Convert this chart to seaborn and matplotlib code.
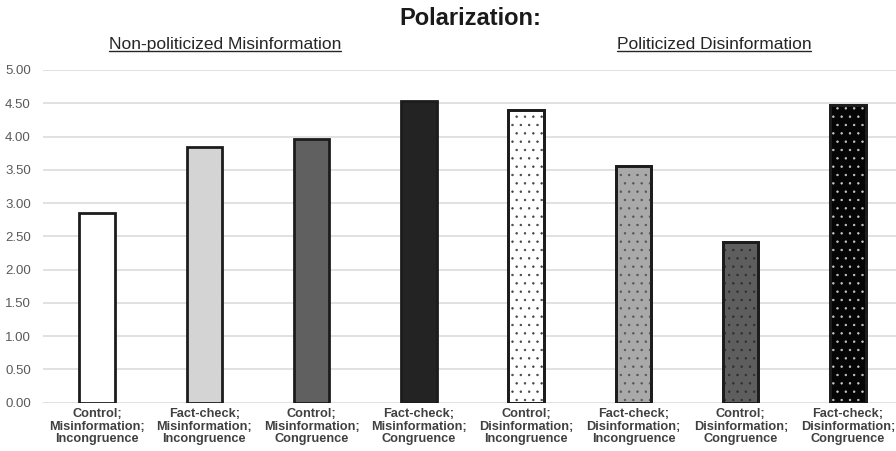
import matplotlib
matplotlib.use("Agg")
import matplotlib.pyplot as plt
import seaborn as sns
import pandas as pd
from matplotlib.lines import Line2D

# Conditions and mean polarization scores
conditions = [
    "Control;\nMisinformation;\nIncongruence",
    "Fact-check;\nMisinformation;\nIncongruence",
    "Control;\nMisinformation;\nCongruence",
    "Fact-check;\nMisinformation;\nCongruence",
    "Control;\nDisinformation;\nIncongruence",
    "Fact-check;\nDisinformation;\nIncongruence",
    "Control;\nDisinformation;\nCongruence",
    "Fact-check;\nDisinformation;\nCongruence",
]
scores = [2.85, 3.85, 3.97, 4.53, 4.40, 3.55, 2.41, 4.48]

# Bar fills, plus dotted pattern colour for the disinformation conditions
fills = ["#ffffff", "#d4d4d4", "#606060", "#232323",
         "#ffffff", "#a9a9a9", "#5e5e5e", "#050505"]
dot_colors = [None, None, None, None,
              "#444444", "#555555", "#2e2e2e", "#c8c8c8"]

yticks = [0.0, 0.5, 1.0, 1.5, 2.0, 2.5, 3.0, 3.5, 4.0, 4.5, 5.0]

df = pd.DataFrame({"condition": conditions, "score": scores})

sns.set_theme(style="white")
plt.rcParams["font.family"] = ["Liberation Sans", "DejaVu Sans"]
plt.rcParams["hatch.linewidth"] = 0.5

fig = plt.figure(figsize=(8.96, 4.51), dpi=100)
ax = fig.add_axes([0.0484, 0.1071, 0.958, 0.7377])

bar_w = 0.33
edge = "#1c1c1c"

sns.barplot(data=df, x="condition", y="score", hue="condition",
            palette=fills, legend=False, width=bar_w, saturation=1,
            edgecolor=edge, linewidth=2.0, ax=ax, zorder=2)

# dotted overlays
xs = list(range(len(conditions)))
for x, v, dc in zip(xs, scores, dot_colors):
    if dc is None:
        continue
    ax.bar(x, v, width=bar_w, fill=False, hatch="..", edgecolor=dc,
           linewidth=0, zorder=3)
    ax.bar(x, v, width=bar_w, fill=False, edgecolor=edge,
           linewidth=2.0, zorder=4)

ax.set_xlim(-0.5, 7.5)
ax.set_ylim(0, 5)
ax.set_yticks(yticks)
ax.set_yticklabels([f"{t:.2f}" for t in yticks], color="#595959", fontsize=9.5)
ax.tick_params(axis="y", length=0, pad=9)
ax.tick_params(axis="x", length=0, pad=4)
for lbl in ax.get_xticklabels():
    lbl.set_fontweight("bold")
    lbl.set_fontsize(9.2)
    lbl.set_color("#404040")
    lbl.set_linespacing(1.05)
ax.set_xlabel("")
ax.set_ylabel("")
ax.grid(axis="y", color="#d9d9d9", linewidth=1.1, zorder=0)
ax.set_axisbelow(True)
for s in ax.spines.values():
    s.set_visible(False)

fig.text(0.5246, 0.958, "Polarization:", ha="center", va="center",
         fontsize=17, fontweight="bold", color="#1a1a1a")

sub_specs = [(0.251, "Non-politicized Misinformation"),
             (0.797, "Politicized Disinformation")]
subs = []
for fx, s in sub_specs:
    t = fig.text(fx, 0.902, s, ha="center", va="center",
                 fontsize=12.5, color="#262626")
    subs.append(t)

fig.canvas.draw()
renderer = fig.canvas.get_renderer()
for t in subs:
    bb = t.get_window_extent(renderer).transformed(fig.transFigure.inverted())
    yline = bb.y0 + 0.001
    fig.add_artist(Line2D([bb.x0, bb.x1], [yline, yline],
                          transform=fig.transFigure, color="#262626",
                          linewidth=1.0))

fig.savefig("out.png", dpi=100)
